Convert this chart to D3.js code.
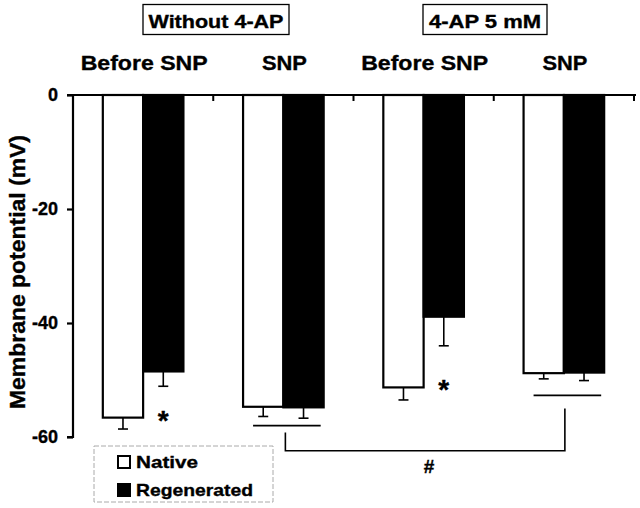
<!DOCTYPE html>
<html>
<head>
<meta charset="utf-8">
<script src="https://cdn.jsdelivr.net/npm/d3@7"></script>
<style>
  html, body { margin: 0; padding: 0; background: #fff; }
  svg { display: block; }
  text { font-family: "Liberation Sans", Arial, Helvetica, sans-serif; font-weight: bold; fill: #000; stroke: #000; stroke-width: 0.35px; }
</style>
</head>
<body>
<svg id="chart" width="640" height="508"></svg>
<script>
// ---- data ----
const groups = ["Before SNP|Without", "SNP|Without", "Before SNP|4-AP", "SNP|4-AP"];
const groupLabels = ["Before SNP", "SNP", "Before SNP", "SNP"];
const conditions = ["Without 4-AP", "4-AP 5 mM"];
const series = ["Native", "Regenerated"];
const nativeMean = [-56.6, -54.7, -51.3, -48.8];
const nativeSE = [2.0, 1.7, 2.2, 1.0];
const regenMean = [-48.5, -54.8, -38.9, -48.7];
const regenSE = [2.6, 1.9, 5.1, 1.4];
const yTicks = [0, -20, -40, -60];
const starGroups = [0, 2];          // groups with * (regenerated vs native)
const hashPair = [1, 3];            // groups compared with #

// ---- layout ----
const svg = d3.select("#chart");
const axisX = 73, plotRight = 634, y0px = 95, y60px = 437;

const y = d3.scaleLinear().domain([0, -60]).range([y0px, y60px]);
const x0 = d3.scaleBand().domain(groups).range([axisX, plotRight]).paddingInner(0).paddingOuter(0);
const x1 = d3.scaleBand().domain(series).range([0, x0.bandwidth()]).paddingOuter(0.74).paddingInner(0);

const rows = groups.map((g, i) => ({
  g, i,
  vals: [
    { s: "Native", v: nativeMean[i], se: nativeSE[i] },
    { s: "Regenerated", v: regenMean[i], se: regenSE[i] }
  ]
}));

// bars
const gGroups = svg.selectAll("g.grp").data(rows).join("g")
  .attr("class", "grp")
  .attr("transform", d => `translate(${x0(d.g)},0)`);

gGroups.selectAll("rect").data(d => d.vals).join("rect")
  .attr("x", d => x1(d.s))
  .attr("y", y(0))
  .attr("width", x1.bandwidth())
  .attr("height", d => y(d.v) - y(0))
  .attr("fill", d => d.s === "Native" ? "#fff" : "#000")
  .attr("stroke", "#000")
  .attr("stroke-width", 2.2);

// error bars (downward only)
gGroups.selectAll("g.err").data(d => d.vals).join("g")
  .attr("class", "err")
  .each(function (d) {
    const cx = x1(d.s) + x1.bandwidth() / 2;
    const g = d3.select(this);
    g.append("line").attr("x1", cx).attr("x2", cx)
      .attr("y1", y(d.v)).attr("y2", y(d.v - d.se))
      .attr("stroke", "#000").attr("stroke-width", 1.6);
    g.append("line").attr("x1", cx - 5).attr("x2", cx + 5)
      .attr("y1", y(d.v - d.se)).attr("y2", y(d.v - d.se))
      .attr("stroke", "#000").attr("stroke-width", 1.6);
  });

// top (zero) axis line with group-boundary ticks
svg.append("line")
  .attr("x1", axisX - 6).attr("x2", plotRight + 2)
  .attr("y1", y(0)).attr("y2", y(0))
  .attr("stroke", "#000").attr("stroke-width", 2.2);
svg.selectAll("line.gtick").data(groups).join("line")
  .attr("class", "gtick")
  .attr("x1", d => x0(d) + x0.step()).attr("x2", d => x0(d) + x0.step())
  .attr("y1", y(0)).attr("y2", y(0) + 6)
  .attr("stroke", "#000").attr("stroke-width", 2);

// y axis
const yAxis = svg.append("g")
  .attr("transform", `translate(${axisX},0)`)
  .call(d3.axisLeft(y).tickValues(yTicks).tickSize(6).tickPadding(9).tickFormat(d => String(d)));
yAxis.select(".domain").attr("stroke-width", 2.2).attr("d", `M-6,${y(0)}H0V${y(-60)}H-6`);
yAxis.selectAll(".tick line").attr("stroke-width", 2.2);
yAxis.selectAll(".tick text")
  .style("font-family", '"Liberation Sans", Arial, sans-serif')
  .style("font-weight", "bold").style("font-size", "18px")
  .attr("fill", "#000").attr("stroke", "#000").attr("stroke-width", 0.35);

// y axis title
svg.append("text")
  .attr("transform", `translate(25,${(y0px + y60px) / 2 + 6}) rotate(-90)`)
  .attr("text-anchor", "middle")
  .attr("textLength", 274).attr("lengthAdjust", "spacingAndGlyphs")
  .style("font-size", "22px")
  .text("Membrane potential (mV)");

// category labels
svg.selectAll("text.cat").data(groups).join("text")
  .attr("class", "cat")
  .attr("x", d => x0(d) + x0.bandwidth() / 2 + 1)
  .attr("y", 70)
  .attr("text-anchor", "middle")
  .attr("textLength", (d, i) => groupLabels[i] === "SNP" ? 45 : 127)
  .attr("lengthAdjust", "spacingAndGlyphs")
  .style("font-size", "21px")
  .text((d, i) => groupLabels[i]);

// condition headers with boxes
const condCenters = [216, 485];
const condWidths = [135, 112];
const condBoxW = [146, 124];
conditions.forEach((c, i) => {
  svg.append("rect")
    .attr("x", condCenters[i] - condBoxW[i] / 2).attr("y", 4.5)
    .attr("width", condBoxW[i]).attr("height", 30)
    .attr("fill", "none").attr("stroke", "#000").attr("stroke-width", 1.3);
  svg.append("text")
    .attr("x", condCenters[i]).attr("y", 28)
    .attr("text-anchor", "middle")
    .attr("textLength", condWidths[i]).attr("lengthAdjust", "spacingAndGlyphs")
    .style("font-size", "18px")
    .text(c);
});

// asterisks below regenerated bars
starGroups.forEach(i => {
  const cx = x0(groups[i]) + x1("Regenerated") + x1.bandwidth() / 2;
  const yy = y(nativeMean[i]) + 12;
  svg.append("text")
    .attr("x", cx).attr("y", yy)
    .attr("text-anchor", "middle")
    .style("font-size", "28px")
    .text("*");
});

// significance lines
const lineY = [-58.0, -52.7];     // mV positions of underlines
const bracketBottom = -62.4;
const underline = hashPair.map((gi, k) => {
  const gx = x0(groups[gi]);
  return { x1: gx + x1("Native") + 10, x2: gx + x1("Regenerated") + x1.bandwidth() - 3, yv: lineY[k],
           cx: gx + x1("Regenerated") };
});
underline.forEach(u => {
  svg.append("line").attr("x1", u.x1).attr("x2", u.x2)
    .attr("y1", y(u.yv)).attr("y2", y(u.yv))
    .attr("stroke", "#000").attr("stroke-width", 1.6);
});
const bx1 = underline[0].cx + 2, bx2 = underline[1].cx + 1;
svg.append("path")
  .attr("d", `M${bx1},${y(lineY[0]) + 7}V${y(bracketBottom)}H${bx2}V${y(lineY[1]) + 13}`)
  .attr("fill", "none").attr("stroke", "#000").attr("stroke-width", 1.6);
svg.append("text")
  .attr("x", (bx1 + bx2) / 2 + 4).attr("y", y(bracketBottom) + 22)
  .attr("text-anchor", "middle")
  .style("font-size", "19px")
  .text("#");

// legend
const leg = svg.append("g").attr("transform", "translate(94,446)");
leg.append("rect").attr("x", 0).attr("y", 0).attr("width", 179).attr("height", 56)
  .attr("fill", "#fff").attr("stroke", "#aaa").attr("stroke-width", 1)
  .attr("stroke-dasharray", "5,2");
series.forEach((s, i) => {
  const yy = 16 + i * 28;
  leg.append("rect").attr("x", 24).attr("y", yy - 6).attr("width", 12).attr("height", 12)
    .attr("fill", s === "Native" ? "#fff" : "#000")
    .attr("stroke", "#000").attr("stroke-width", 2);
  leg.append("text").attr("x", 42).attr("y", yy + 6)
    .attr("textLength", s === "Native" ? 62 : 117).attr("lengthAdjust", "spacingAndGlyphs")
    .style("font-size", "17px")
    .text(s);
});
</script>
</body>
</html>
